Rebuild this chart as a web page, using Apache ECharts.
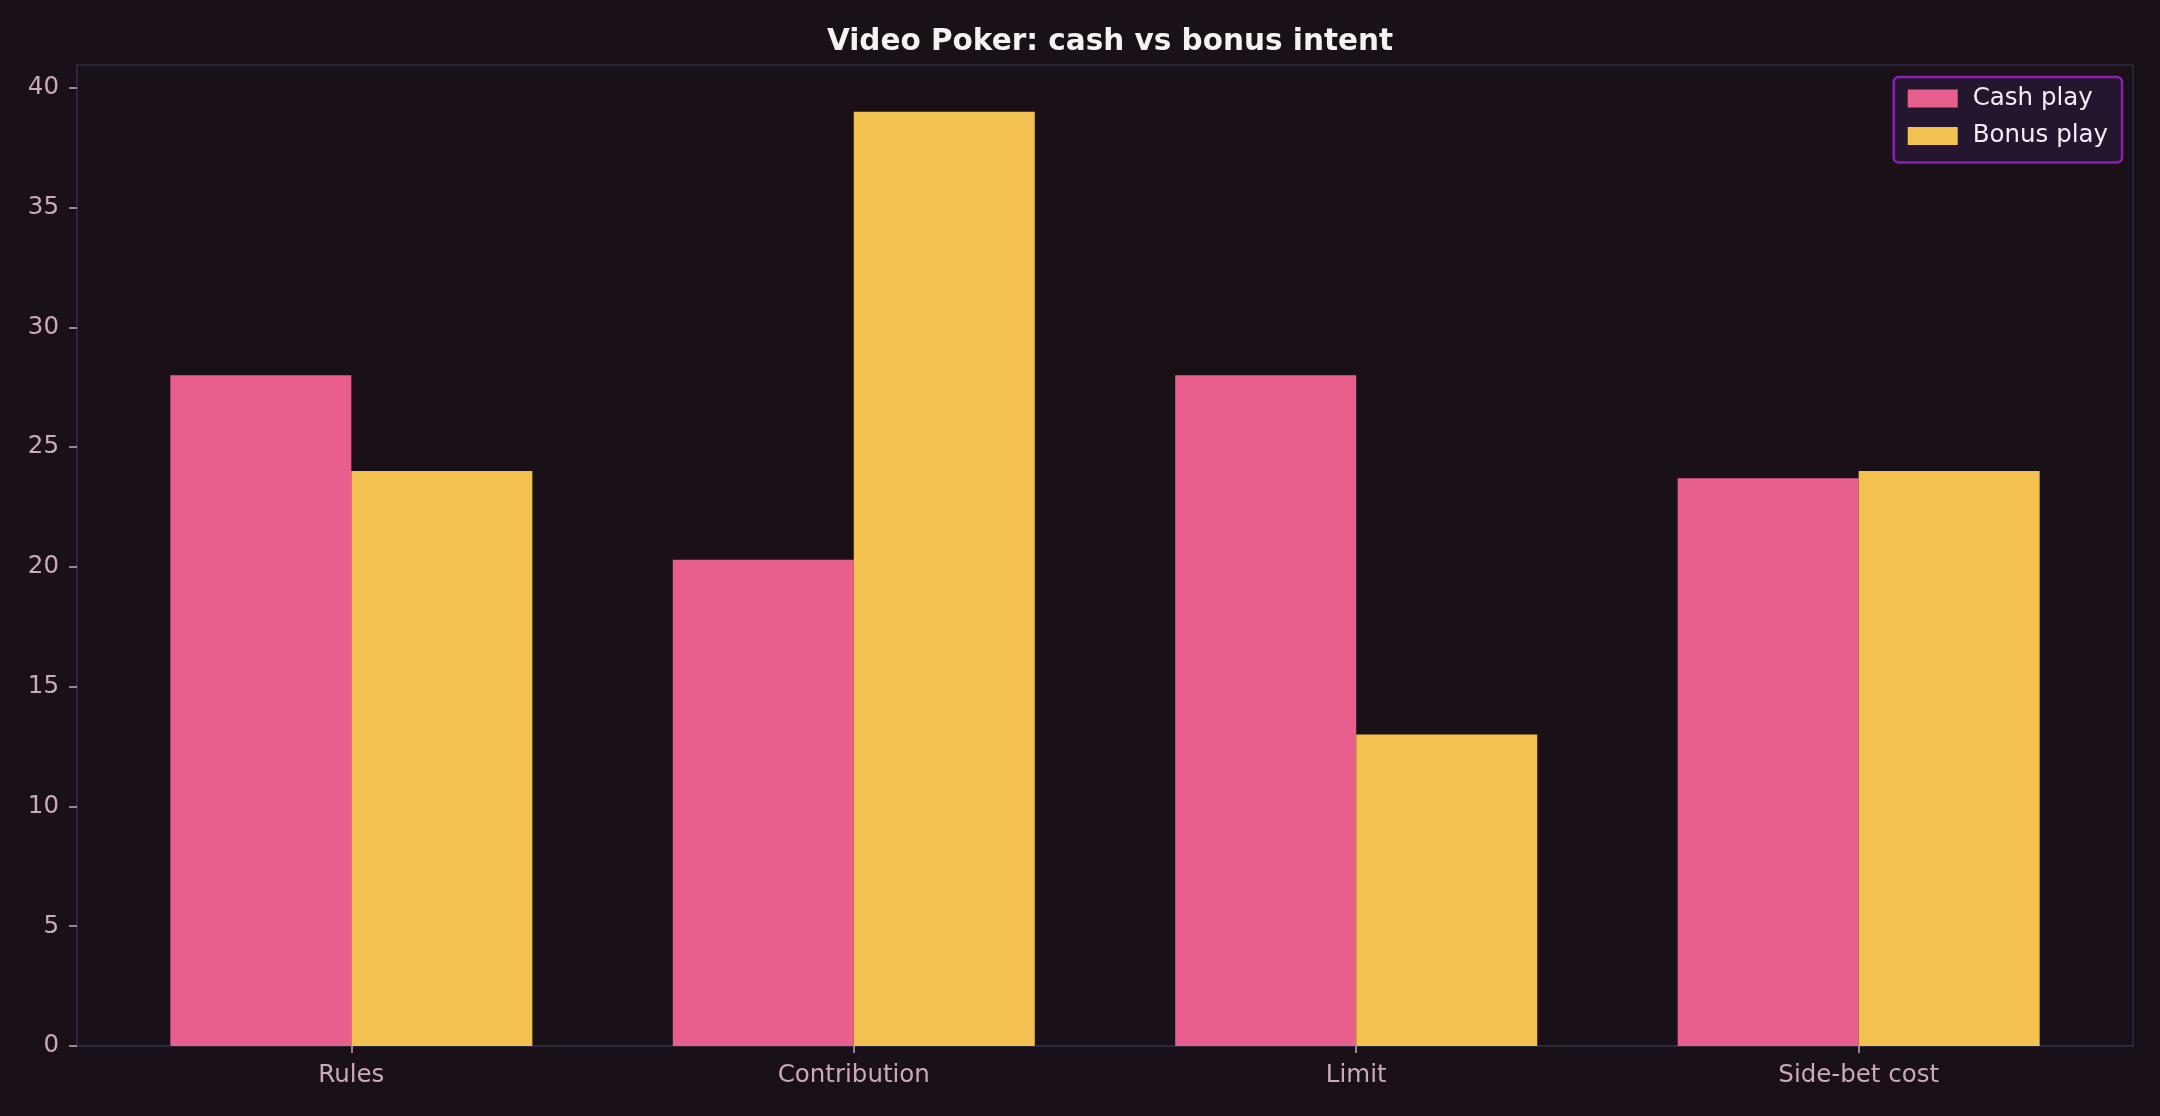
<!DOCTYPE html>
<html>
<head>
<meta charset="utf-8">
<title>Video Poker: cash vs bonus intent</title>
<script src="https://cdn.jsdelivr.net/npm/echarts@6/dist/echarts.min.js"></script>
<style>
  html, body { margin: 0; padding: 0; background: #1a1118; }
  #chart { width: 2160px; height: 1116px; }
</style>
</head>
<body>
<div id="chart"></div>
<script>
// data
var categories = ['Rules', 'Contribution', 'Limit', 'Side-bet cost'];
var cashPlay = [28, 20.3, 28, 23.7];
var bonusPlay = [24, 39, 13, 24];
var yTicks = [0, 5, 10, 15, 20, 25, 30, 35, 40];

var chart = echarts.init(document.getElementById('chart'));

// bars sit on a numeric x axis so the matplotlib-style margins line up
function toPoints(values) {
    return values.map(function (v, i) { return [i, v]; });
}
var xIdx = categories.map(function (c, i) { return i; });

var labelColor = '#c9a9bb';
var frameColor = '#2e2a45';

option = {
    backgroundColor: '#1a1118',
    animation: false,
    textStyle: { fontFamily: 'DejaVu Sans' },
    title: {
        text: 'Video Poker: cash vs bonus intent',
        left: 1105,
        textAlign: 'center',
        top: 22,
        textStyle: {
            color: '#f7f0f5',
            fontSize: 29.5,
            fontWeight: 'bold',
            fontFamily: 'DejaVu Sans'
        }
    },
    legend: {
        orient: 'vertical',
        right: 38,
        top: 77,
        padding: [9, 14, 14, 14],
        itemWidth: 50,
        itemHeight: 18,
        itemGap: 12.5,
        icon: 'rect',
        backgroundColor: '#25162f',
        borderColor: '#8d1fb0',
        borderWidth: 2.5,
        borderRadius: 5,
        textStyle: {
            color: '#f3ecf3',
            fontSize: 24.5,
            fontFamily: 'DejaVu Sans',
            padding: [0, 0, 0, 10]
        },
        data: ['Cash play', 'Bonus play']
    },
    grid: {
        left: 77,
        right: 27,
        top: 65,
        bottom: 70,
        show: true,
        borderColor: frameColor,
        borderWidth: 1.5,
        backgroundColor: 'transparent'
    },
    xAxis: {
        type: 'value',
        min: -0.546,
        max: 3.546,
        splitLine: { show: false },
        axisLine: { show: true, onZero: false, lineStyle: { color: frameColor, width: 1.5 } },
        axisTick: {
            show: true,
            length: 7,
            customValues: xIdx,
            lineStyle: { color: labelColor, width: 1.5 }
        },
        axisLabel: {
            customValues: xIdx,
            color: labelColor,
            fontSize: 24.5,
            fontFamily: 'DejaVu Sans',
            margin: 17,
            formatter: function (v) { return categories[Math.round(v)]; }
        }
    },
    yAxis: {
        type: 'value',
        min: 0,
        max: 40.95,
        splitLine: { show: false },
        axisLine: { show: true, onZero: false, lineStyle: { color: frameColor, width: 1.5 } },
        axisTick: {
            show: true,
            length: 8,
            customValues: yTicks,
            lineStyle: { color: labelColor, width: 1.5 }
        },
        axisLabel: {
            customValues: yTicks,
            color: labelColor,
            fontSize: 24.5,
            fontFamily: 'DejaVu Sans',
            margin: 18
        }
    },
    series: [{
        name: 'Cash play',
        type: 'bar',
        barWidth: 181,
        barGap: '0%',
        itemStyle: { color: '#e85e8c' },
        data: toPoints(cashPlay)
    }, {
        name: 'Bonus play',
        type: 'bar',
        barWidth: 181,
        barGap: '0%',
        itemStyle: { color: '#f2c14f' },
        data: toPoints(bonusPlay)
    }]
};
chart.setOption(option);

window.addEventListener('resize', function () {
    chart.resize();
});
</script>
</body>
</html>
